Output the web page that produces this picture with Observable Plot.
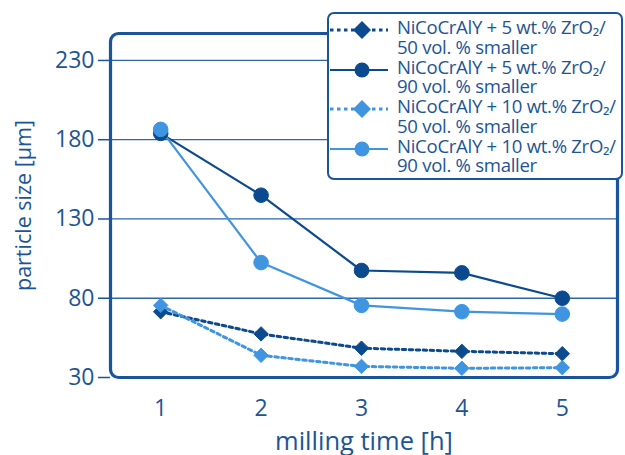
<!DOCTYPE html>
<html>
<head>
<meta charset="utf-8">
<script src="https://cdn.jsdelivr.net/npm/d3@7"></script>
<script src="https://cdn.jsdelivr.net/npm/@observablehq/plot@0.6"></script>
<style>
  html, body { margin: 0; padding: 0; background: #fff; }
  #wrap { position: relative; width: 625px; height: 455px; font-family: "Open Sans", sans-serif; overflow: hidden; }
  #legend {
    position: absolute; left: 327px; top: 12px; width: 296px; height: 168px;
    background: #fff; border: 2.5px solid #1a559c; border-radius: 7px; box-sizing: border-box;
    color: #1d5594; padding-top: 3px;
  }
  .entry { display: flex; align-items: flex-start; height: 39.5px; }
  .entry svg { flex: none; margin-top: 4px; }
  .entry .txt { margin-left: 6px; font-size: 18.6px; line-height: 19.5px; letter-spacing: -0.3px; white-space: nowrap; }
</style>
</head>
<body>
<div id="wrap"><div id="chart"></div><div id="legend"></div></div>
<script>
const times = [1, 2, 3, 4, 5];
const seriesNames = [
  "NiCoCrAlY + 5 wt.% ZrO₂/ 50 vol. % smaller",
  "NiCoCrAlY + 5 wt.% ZrO₂/ 90 vol. % smaller",
  "NiCoCrAlY + 10 wt.% ZrO₂/ 50 vol. % smaller",
  "NiCoCrAlY + 10 wt.% ZrO₂/ 90 vol. % smaller"
];
const s5_50 = [71.5, 57.5, 48.5, 46.5, 45];
const s5_90 = [184, 145, 97.5, 96, 80];
const s10_50 = [75.5, 44, 37, 35.8, 36.2];
const s10_90 = [186.5, 102.5, 75.5, 71.5, 70];
const yTicks = [30, 80, 130, 180, 230];

const dark = "#0c4a8f";
const light = "#3f95e0";
const frameColor = "#1a559c";
const textColor = "#1d5594";

const seriesDefs = [
  {name: seriesNames[0], values: s5_50, color: dark, dashed: true, symbol: "diamond2"},
  {name: seriesNames[1], values: s5_90, color: dark, dashed: false, symbol: "circle"},
  {name: seriesNames[2], values: s10_50, color: light, dashed: true, symbol: "diamond2"},
  {name: seriesNames[3], values: s10_90, color: light, dashed: false, symbol: "circle"}
];

const marks = [
  Plot.ruleY(yTicks.slice(1), {stroke: "#2f66a8", strokeWidth: 1.3}),
  Plot.axisY(yTicks, {tickSize: 12, tickPadding: 4, fontSize: 23, stroke: frameColor, strokeWidth: 1.5,
    label: "particle size [µm]", labelAnchor: "center", labelArrow: "none", labelOffset: 95}),
  Plot.axisX(times, {tickSize: 0, tickPadding: 22, fontSize: 23,
    label: "milling time [h]", labelAnchor: "center", labelArrow: "none", labelOffset: 72}),
];
for (const s of seriesDefs) {
  const data = times.map((t, i) => ({t, v: s.values[i]}));
  marks.push(Plot.line(data, {x: "t", y: "v", stroke: s.color, strokeWidth: s.dashed ? 3 : 2.2,
    strokeDasharray: s.dashed ? "3.5,3.5" : null}));
}
for (const s of seriesDefs) {
  const data = times.map((t, i) => ({t, v: s.values[i]}));
  marks.push(Plot.dot(data, {x: "t", y: "v", symbol: s.symbol, fill: s.color, stroke: s.color,
    strokeWidth: 1, r: s.symbol === "circle" ? 7.3 : 6.5}));
}
marks.push(Plot.frame({stroke: frameColor, strokeWidth: 3.2, rx: 8}));

const chart = Plot.plot({
  width: 625, height: 455,
  marginLeft: 110, marginRight: 8, marginTop: 33, marginBottom: 78,
  x: {domain: [0.5, 5.55]},
  y: {domain: [30, 247]},
  style: {fontFamily: "Open Sans, sans-serif", color: textColor, background: "#fff"},
  marks
});
document.getElementById("chart").appendChild(chart);

// enforce font sizes on axis texts
d3.select(chart).selectAll("text").each(function () {
  const g = this.closest("g[aria-label]");
  const lab = g ? g.getAttribute("aria-label") : "";
  let fs = null;
  if (/tick label/.test(lab)) fs = 23;
  else if (/^y-axis label/.test(lab)) fs = 21.5;
  else if (/^x-axis label/.test(lab)) fs = 25.5;
  if (fs) { this.setAttribute("font-size", fs); this.style.fontSize = fs + "px"; }
});

// legend
const leg = document.getElementById("legend");
for (const s of seriesDefs) {
  const [l1, l2] = s.name.split("/ ");
  const e = document.createElement("div");
  e.className = "entry";
  const w = 62, h = 18;
  const sym = s.symbol === "circle"
    ? `<circle cx="33" cy="9" r="7.5" fill="${s.color}"/>`
    : `<path d="M33,0 L42,9 L33,18 L24,9Z" fill="${s.color}"/>`;
  e.innerHTML = `<svg width="${w}" height="${h}"><line x1="1" x2="59" y1="9" y2="9" stroke="${s.color}" stroke-width="${s.dashed ? 3 : 2.2}" ${s.dashed ? 'stroke-dasharray="3.5,3.5"' : ''}/>${sym}</svg><div class="txt">${l1}/<br>${l2}</div>`;
  leg.appendChild(e);
}
</script>
</body>
</html>
